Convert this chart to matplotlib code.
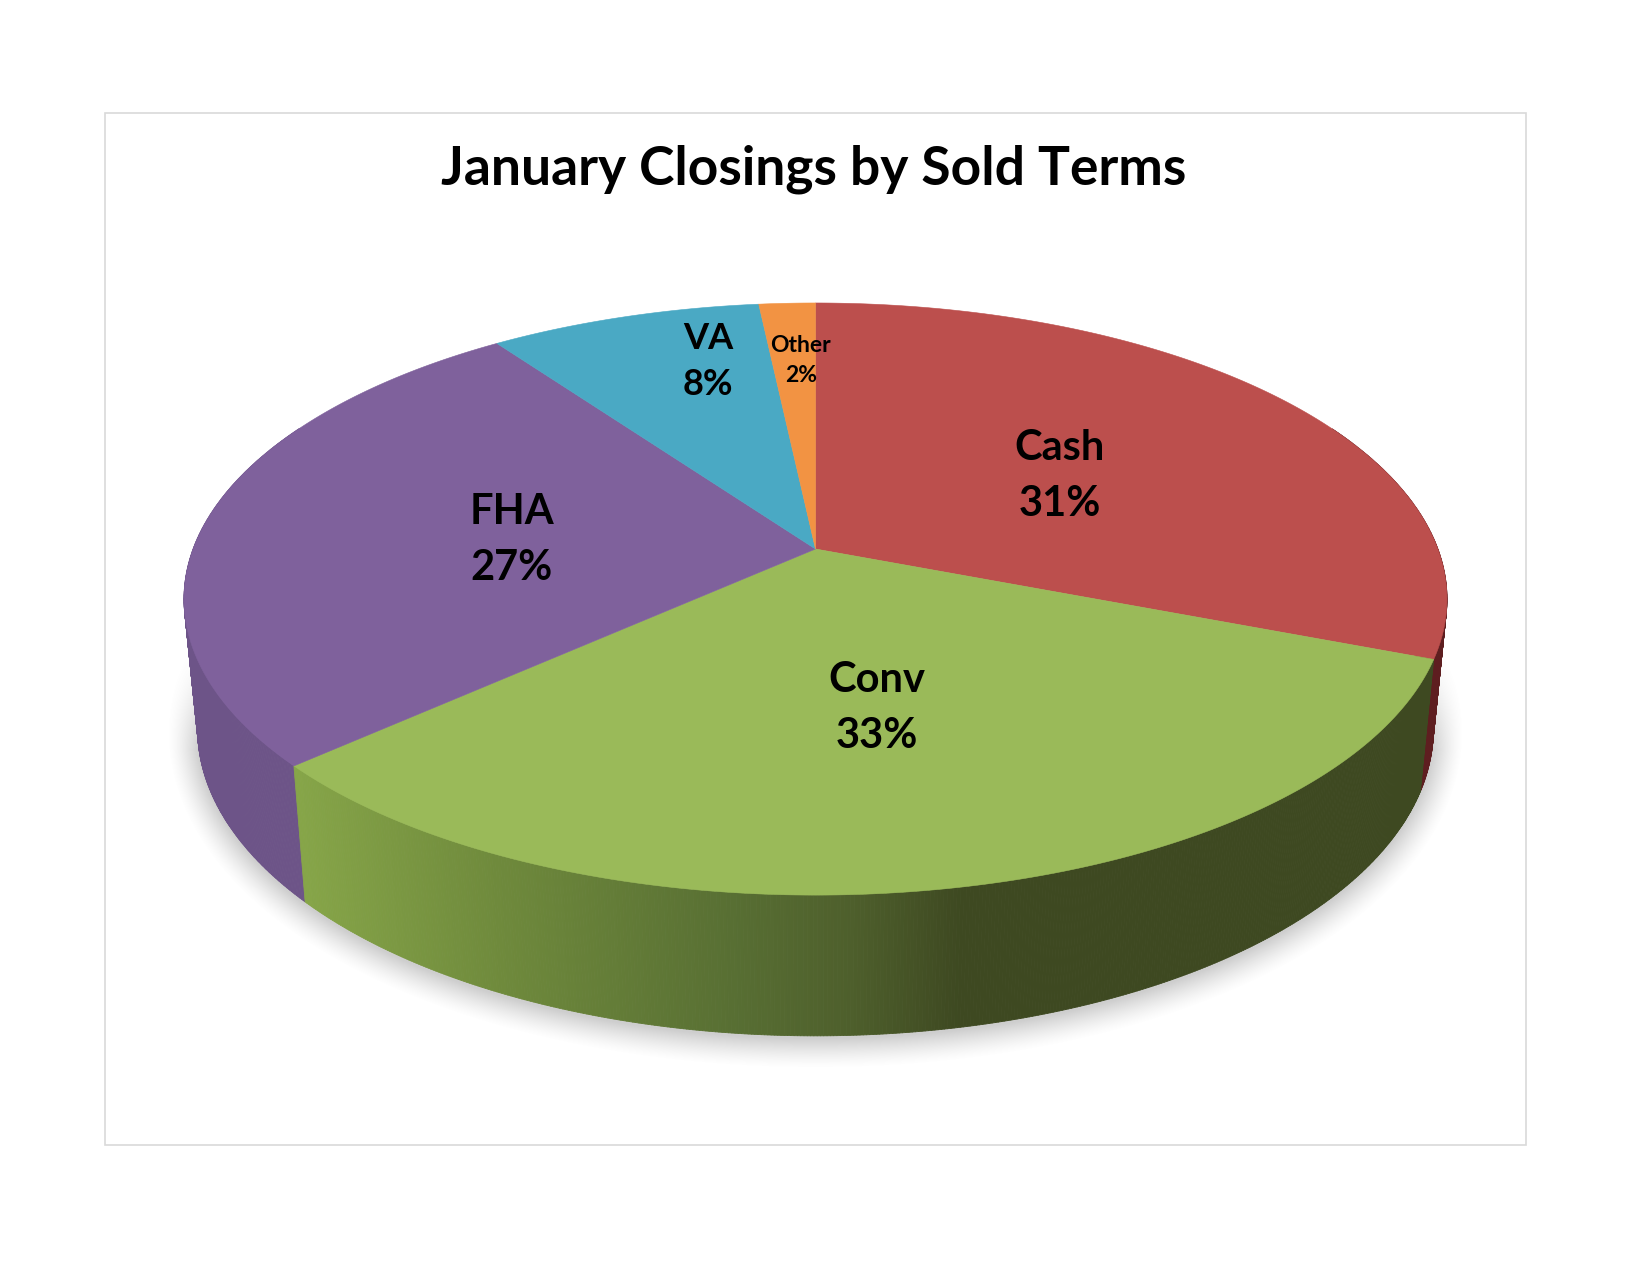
import numpy as np
import matplotlib
matplotlib.use("Agg")
import matplotlib.pyplot as plt
from matplotlib.patches import Polygon, Rectangle
from matplotlib.collections import PolyCollection
from matplotlib.colors import to_rgb

# ---- data ----
categories = ["Cash", "Conv", "FHA", "VA", "Other"]
values = [30.9, 32.5, 26.8, 8.2, 1.7]
pct_labels = ["31%", "33%", "27%", "8%", "2%"]
title = "January Closings by Sold Terms"

# ---- style ----
top_colors = ["#BC4F4D", "#9ABA59", "#7F619C", "#4AA9C4", "#F29343"]
side_colors = ["#5E1E20", None, "#6D5488", "#3C8A9E", "#C0702F"]
green_x = [305, 500, 733, 850, 960, 1447]
green_c = ["#86A548", "#6F8A3C", "#586F33", "#4E5F2C", "#3E4921", "#3E4921"]
label_r = [0.50, 0.50, 0.50, 0.77, 0.74]
label_dx = [-1, 0, 3, 45, 7]
label_dy = [5, 5, 6, -3, 0]
label_fs = [30, 30, 30, 26, 16.5]
label_gap = [28, 28, 28, 23, 15]
label_w = ["bold", "bold", "bold", "bold", "bold"]

W, H = 1650, 1275
fig = plt.figure(figsize=(W / 100, H / 100), dpi=100, facecolor="white")
ax = fig.add_axes([0, 0, 1, 1])
ax.set_xlim(0, W)
ax.set_ylim(H, 0)
ax.axis("off")
plt.rcParams["font.family"] = ["Lato", "DejaVu Sans"]

CX = 815.5
K = 0.169


def project(theta, plane):
    """theta clockwise from the top; maps the unit disc on to the screen."""
    A, B, y0 = plane
    u, v = np.sin(theta), np.cos(theta)
    d = 1 + K * v
    return CX + A * u / d, y0 - B * v / d


TOP = (622.4, 287.6, 549.0)
BOT = (609.0, 298.2, 677.0)

# frame
ax.add_patch(Rectangle((104.5, 113), 1421, 1032, fc="white", ec="#D9D9D9", lw=1.2, zorder=0))

# soft shadow under the pie: fades with the distance from the base ellipse
gx, gy = np.meshgrid(np.arange(130, 1510), np.arange(380, 1110))
SA, SB = 618.0, 307.0
ex, ey = (gx - 815) / SA, (gy - 731) / SB
rr = np.sqrt(ex ** 2 + ey ** 2) + 1e-6
grad = np.sqrt((ex / SA) ** 2 + (ey / SB) ** 2) / rr
dist = (rr - 1) / grad
soft = np.clip(1 - dist / 30.0, 0, 1)
soft = soft ** 1.4
soft *= np.clip((gy - 640) / 110.0, 0, 1)
rgba = np.zeros(gx.shape + (4,))
rgba[..., :3] = 0.5
rgba[..., 3] = 0.38 * soft
ax.imshow(rgba, extent=(130, 1510, 1110, 380), zorder=1, interpolation="bilinear", aspect="auto")
ax.set_xlim(0, W)
ax.set_ylim(H, 0)

# slice limits from the values
fr = np.array(values) / np.sum(values)
edges = np.concatenate([[0], np.cumsum(fr)]) * 2 * np.pi
mids = (edges[:-1] + edges[1:]) / 2

# side wall
gx_arr = np.array(green_x)
gc_arr = np.array([to_rgb(c) for c in green_c])


def side_color(i, x):
    if side_colors[i] is not None:
        return to_rgb(side_colors[i])
    return tuple(np.interp(x, gx_arr, gc_arr[:, j]) for j in range(3))


quads = []
for i in range(len(values)):
    a0, a1 = edges[i], edges[i + 1]
    n = max(2, int((a1 - a0) / (2 * np.pi) * 1400))
    t = np.linspace(a0, a1, n + 1)
    for t0, t1 in zip(t[:-1], t[1:]):
        if np.cos((t0 + t1) / 2) > 0.45:
            continue
        x0, y0 = project(t0, TOP)
        x1, y1 = project(t1, TOP)
        x2, y2 = project(t1, BOT)
        x3, y3 = project(t0, BOT)
        quads.append((np.cos((t0 + t1) / 2),
                      [(x0, y0), (x1, y1), (x2, y2), (x3, y3)],
                      side_color(i, (x0 + x1 + x2 + x3) / 4)))
quads.sort(key=lambda q: -q[0])
ax.add_collection(PolyCollection([q[1] for q in quads],
                                 facecolors=[q[2] for q in quads],
                                 edgecolors=[q[2] for q in quads],
                                 linewidths=0.6, zorder=2))

# top face
for i, col in enumerate(top_colors):
    t = np.linspace(edges[i], edges[i + 1], 300)
    x, y = project(t, TOP)
    pts = np.vstack([[CX, TOP[2]], np.column_stack([x, y])])
    ax.add_patch(Polygon(pts, closed=True, fc=col, ec=col, lw=0.4, zorder=3))

# labels
for i, name in enumerate(categories):
    t = mids[i]
    r = label_r[i]
    u, v = r * np.sin(t), r * np.cos(t)
    d = 1 + K * v
    lx = CX + TOP[0] * u / d + label_dx[i]
    ly = TOP[2] - TOP[1] * v / d + label_dy[i]
    ax.text(lx, ly - label_gap[i], name, ha="center", va="center", fontsize=label_fs[i],
            fontweight=label_w[i], color="black", zorder=4)
    ax.text(lx, ly + label_gap[i], pct_labels[i], ha="center", va="center", fontsize=label_fs[i],
            fontweight=label_w[i], color="black", zorder=4)

ax.text(814, 169, title, ha="center", va="center", fontsize=38.4, fontweight="bold", color="black", zorder=4)

fig.savefig("out.png", dpi=100, facecolor="white")
